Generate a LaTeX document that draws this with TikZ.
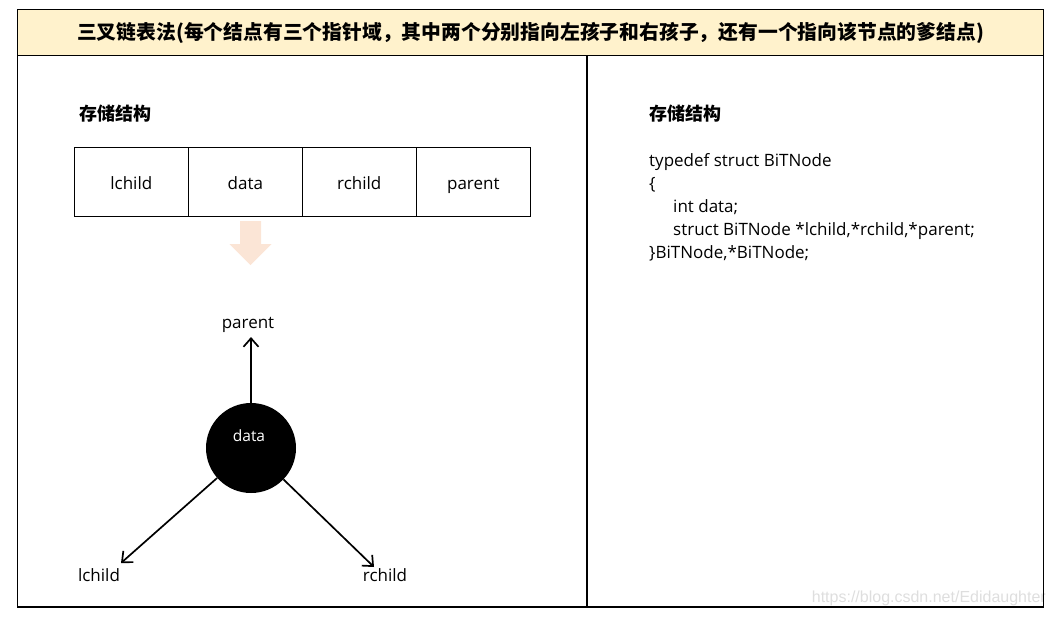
\documentclass[tikz,border=0pt]{standalone}
\usepackage{fontspec}
\setmainfont{Open Sans}
\newfontfamily\cjk{Noto Sans CJK SC}
\newfontfamily\wm{Liberation Sans}
\usetikzlibrary{arrows.meta}
\definecolor{titlebg}{HTML}{FFF2CC}
\definecolor{bigarrow}{HTML}{FBE5D6}
\definecolor{wmgray}{HTML}{DEDEDE}
\tikzset{
  frame/.style={line width=1.4pt, draw=black},
  cell/.style={draw, line width=1.2pt, minimum width=114pt, minimum height=69pt, inner sep=0pt, font=\fontsize{17}{19}\selectfont, text height=16pt, text depth=0pt},
  lab/.style={font=\fontsize{17}{19}\selectfont, inner sep=0pt, text height=12pt, text depth=4pt},
  codeline/.style={font=\fontsize{17}{19}\selectfont, anchor=base west, inner sep=0pt},
  head/.style={font=\cjk\bfseries\fontsize{18}{20}\selectfont, anchor=west, inner sep=0pt},
  arr/.style={line width=1.7pt, -{Straight Barb[length=8.5pt,width=15pt,line width=1.7pt]}},
}
\begin{document}
\begin{tikzpicture}[x=1pt,y=-1pt]
\useasboundingbox (0,0) rectangle (1056,616);
% title band
\fill[titlebg] (17.5,9.5) rectangle (1043.5,55.5);
\node[font=\cjk\bfseries\fontsize{19.8}{22}\selectfont, inner sep=0pt] (title) at (530.5,33) {三叉链表法(每个结点有三个指针域，其中两个分别指向左孩子和右孩子，还有一个指向该节点的爹结点)};
% watermark
\node[font=\wm\fontsize{16}{18}\selectfont, text=wmgray, anchor=base east, inner sep=0pt] (wm) at (1046,602) {https://blog.csdn.net/Edidaughter};
% frame
\draw[frame] (17.5,9.5) rectangle (1043.5,607);
\draw[frame] (17.5,55.5) -- (1043.5,55.5);
\draw[frame] (587,55.5) -- (587,607);
% left panel
\node[head] (h1) at (79,114) {存储结构};
\node[cell] (c1) at (131.3,181.6) {lchild};
\node[cell] (c2) at (245.3,181.6) {data};
\node[cell] (c3) at (359.3,181.6) {rchild};
\node[cell] (c4) at (473.3,181.6) {parent};
\fill[bigarrow] (240,221) -- (261,221) -- (261,244) -- (271.5,244) -- (250.5,265) -- (229.5,244) -- (240,244) -- cycle;
\node[circle, fill=black, minimum size=90pt, inner sep=0pt] (d) at (251,448) {};
\node[lab, text=white, font=\fontsize{15.5}{17}\selectfont] (dl) at (249,437) {data};
\node[lab] (pl) at (248,324) {parent};
\node[lab] (ll) at (99,577) {lchild};
\node[lab] (rl) at (385,577) {rchild};
\coordinate (pt) at (251,337);
\coordinate (lt) at (121,563);
\coordinate (rt) at (374,567);
\draw[arr] (d) -- (pt);
\draw[arr] (d) -- (lt);
\draw[arr] (d) -- (rt);
% right panel
\node[head] (h2) at (649,114) {存储结构};
\node[codeline] (l1) at (649,166) {typedef struct BiTNode};
\node[codeline] (l2) at (649,189) {\{};
\node[codeline] (l3) at (673,212) {int data;};
\node[codeline] (l4) at (673,235) {struct BiTNode *lchild,*rchild,*parent;};
\node[codeline] (l5) at (649,258) {\}BiTNode,*BiTNode;};
\end{tikzpicture}
\end{document}
